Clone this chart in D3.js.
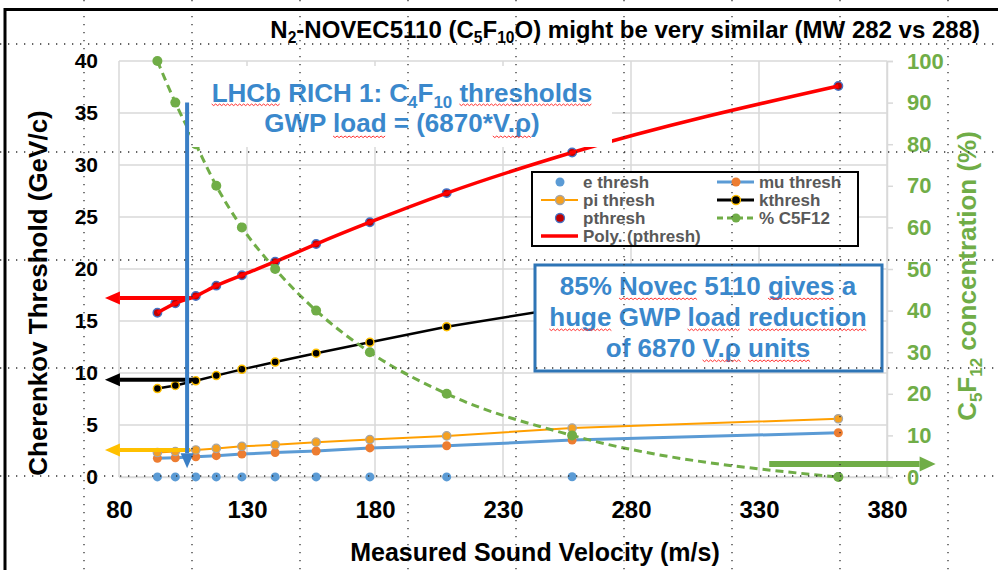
<!DOCTYPE html>
<html>
<head>
<meta charset="utf-8">
<script src="https://cdn.jsdelivr.net/npm/d3@7"></script>
<style>
  body { margin: 0; background: #fff; }
  svg { display: block; font-family: "Liberation Sans", Arial, sans-serif; font-weight: bold; }
</style>
</head>
<body>
<svg id="chart" width="998" height="570"></svg>
<script>
// values
const velocity  = [95, 102, 110, 118, 128, 141, 157, 178, 208, 257, 361];
const eThresh   = [0.01, 0.01, 0.01, 0.01, 0.01, 0.01, 0.01, 0.01, 0.01, 0.02, 0.02];
const muThresh  = [1.8, 1.85, 1.95, 2.05, 2.2, 2.35, 2.5, 2.8, 3.0, 3.55, 4.25];
const piThresh  = [2.35, 2.45, 2.6, 2.75, 2.95, 3.1, 3.35, 3.6, 3.95, 4.7, 5.6];
const kThresh   = [8.5, 8.8, 9.25, 9.75, 10.35, 11.05, 11.9, 12.95, 14.45, 16.4, 19.9];
const pThresh   = [15.8, 16.7, 17.4, 18.4, 19.4, 20.7, 22.4, 24.5, 27.3, 31.2, 37.6];
const c5f12     = [100, 90, 80, 70, 60, 50, 40, 30, 20, 10, 0];

const xTicks = [80, 130, 180, 230, 280, 330, 380];
const yTicks = [0, 5, 10, 15, 20, 25, 30, 35, 40];
const y2Ticks = [0, 10, 20, 30, 40, 50, 60, 70, 80, 90, 100];

// annotation arrows, in data units (left axis)
const arrows = [
  {x1: 108, y1: 17.2, x2: 74.5, y2: 17.2, color: '#ff0000'},
  {x1: 110, y1: 9.35, x2: 74.5, y2: 9.35, color: '#000000'},
  {x1: 107.8, y1: 2.6, x2: 74.5, y2: 2.6, color: '#ffc000'},
  {x1: 106.6, y1: 36.0, x2: 106.6, y2: 0.85, color: '#3a7fc6'},
  {x1: 334, y1: 1.25, x2: 399, y2: 1.25, color: '#70ad47', w: 6}
];

const svg = d3.select('#chart');
const x = d3.scaleLinear().domain([80, 380]).range([119, 887]);
const y = d3.scaleLinear().domain([0, 40]).range([477, 61]);
const y2 = d3.scaleLinear().domain([0, 100]).range([477, 61]);

const grey = '#d9d9d9';
const green = '#70ad47';
const blueText = '#3a88cc';

//gridlines
svg.append('g').selectAll('line').data(yTicks).join('line')
  .attr('x1', x(80)).attr('x2', x(380))
  .attr('y1', d => y(d)).attr('y2', d => y(d))
  .attr('stroke', grey).attr('stroke-width', 1.5);
svg.append('g').selectAll('line').data(xTicks).join('line')
  .attr('x1', d => x(d)).attr('x2', d => x(d))
  .attr('y1', y(0)).attr('y2', y(40))
  .attr('stroke', grey).attr('stroke-width', 1.5);

//axes
const xAxis = svg.append('g')
  .attr('transform', `translate(0, ${y(0)})`)
  .call(d3.axisBottom(x).tickValues(xTicks).tickSize(0).tickPadding(24));
xAxis.select('.domain').attr('stroke', grey).attr('stroke-width', 1.5);
xAxis.selectAll('text').attr('font-size', 24).attr('font-family', null).attr('fill', '#000');

const yAxis = svg.append('g')
  .attr('transform', `translate(${x(80)}, 0)`)
  .call(d3.axisLeft(y).tickValues(yTicks).tickSize(0).tickPadding(21));
yAxis.select('.domain').remove();
yAxis.selectAll('text').attr('font-size', 21).attr('font-family', null).attr('fill', '#000');

const y2Axis = svg.append('g')
  .attr('transform', `translate(${x(380)}, 0)`)
  .call(d3.axisRight(y2).tickValues(y2Ticks).tickSize(6).tickPadding(14));
y2Axis.select('.domain').attr('stroke', grey).attr('stroke-width', 1.5);
y2Axis.selectAll('line').attr('stroke', grey).attr('stroke-width', 1.5);
y2Axis.selectAll('text').attr('font-size', 22).attr('font-family', null).attr('fill', green);

//series helpers
function pts(vals) { return velocity.map((v, i) => [v, vals[i]]); }

function drawLine(vals, scale, color, width, dash, curve) {
  const line = d3.line()
    .x(d => x(d[0]))
    .y(d => scale(d[1]))
    .curve(curve || d3.curveLinear);
  svg.append('path')
    .datum(pts(vals))
    .attr('fill', 'none')
    .attr('stroke', color)
    .attr('stroke-width', width)
    .attr('stroke-dasharray', dash)
    .attr('stroke-linejoin', 'round')
    .attr('d', line);
}

function drawDots(vals, scale, r, fill, stroke, sw) {
  svg.append('g').selectAll('circle').data(pts(vals)).join('circle')
    .attr('cx', d => x(d[0]))
    .attr('cy', d => scale(d[1]))
    .attr('r', r)
    .attr('fill', fill)
    .attr('stroke', stroke || 'none')
    .attr('stroke-width', sw || 0);
}

drawDots(eThresh, y, 4.5, '#5b9bd5');
drawLine(muThresh, y, '#5b9bd5', 3);
drawDots(muThresh, y, 4.5, '#ed7d31');
drawLine(piThresh, y, '#ff9f00', 2);
drawDots(piThresh, y, 4.2, '#f5a020', '#a5a5a5', 1.2);
drawLine(kThresh, y, '#000000', 2.5);
drawDots(kThresh, y, 4, '#000000', '#ffc000', 1.5);
drawDots(pThresh, y, 4.2, '#c00000', '#4472c4', 1.5);
drawLine(pThresh, y, '#ff0000', 3.5, null, d3.curveMonotoneX);
drawLine(c5f12, y2, green, 3, '8,5', d3.curveMonotoneX);
drawDots(c5f12, y2, 5, green);

//text helper for subscripts
function richText(t, parts, size) {
  let shifted = false;
  parts.forEach(p => {
    const sub = typeof p !== 'string';
    const ts = t.append('tspan').text(sub ? p.sub : p);
    if (sub) {
      ts.attr('font-size', size * 0.65);
      if (!shifted) ts.attr('dy', size * 0.22);
      shifted = true;
    } else if (shifted) {
      ts.attr('dy', -size * 0.22);
      shifted = false;
    }
  });
  return t;
}

//red spell check squiggle under some words
function squiggle(textSel, words, dyLine) {
  const node = textSel.node();
  const str = node.textContent;
  const by = +textSel.attr('y') + dyLine;
  words.forEach(w => {
    const i = str.indexOf(w);
    if (i < 0) return;
    const x1 = node.getStartPositionOfChar(i).x;
    const x2 = node.getEndPositionOfChar(i + w.length - 1).x;
    let d = `M${x1},${by}`;
    let k = 0;
    for (let xx = x1 + 2; xx <= x2; xx += 2) {
      d += `L${xx},${by + (k % 2 ? 0 : 1.6)}`;
      k++;
    }
    svg.append('path').attr('d', d).attr('fill', 'none')
      .attr('stroke', '#ff3030').attr('stroke-width', 1);
  });
}

//LHCb box (white, covers part of the lines)
svg.append('rect').attr('x', 190).attr('y', 66).attr('width', 422).attr('height', 81).attr('fill', '#fff');
const l1 = svg.append('text').attr('x', 402).attr('y', 102).attr('text-anchor', 'middle')
  .attr('font-size', 26).attr('fill', blueText);
richText(l1, ['LHCb RICH 1: C', {sub: '4'}, 'F', {sub: '10'}, ' thresholds'], 26);
const l2 = svg.append('text').attr('x', 402).attr('y', 132).attr('text-anchor', 'middle')
  .attr('font-size', 26).attr('fill', blueText).text('GWP load = (6870*V.ρ)');
squiggle(l1, ['LHCb', 'thresholds'], 2);
squiggle(l2, ['load', 'V.ρ'], 4);

//legend
const lg = svg.append('g').attr('transform', 'translate(532, 172)');
lg.append('rect').attr('width', 326).attr('height', 74).attr('fill', '#fff')
  .attr('stroke', '#000').attr('stroke-width', 2);
const legendItems = [
  {label: 'e thresh', col: 0, row: 0, dot: '#5b9bd5'},
  {label: 'mu thresh', col: 1, row: 0, line: '#5b9bd5', lw: 3, dot: '#ed7d31'},
  {label: 'pi thresh', col: 0, row: 1, line: '#ff9f00', lw: 2, dot: '#f5a020', ds: '#a5a5a5'},
  {label: 'kthresh', col: 1, row: 1, line: '#000', lw: 3, dot: '#000', ds: '#ffc000'},
  {label: 'pthresh', col: 0, row: 2, dot: '#c00000', ds: '#4472c4'},
  {label: '% C5F12', col: 1, row: 2, line: green, lw: 3, dash: '6,4', dot: green},
  {label: 'Poly. (pthresh)', col: 0, row: 3, line: '#ff0000', lw: 3.5}
];
legendItems.forEach(it => {
  const gx = it.col ? 185 : 9;
  const gy = 10 + it.row * 18;
  const g = lg.append('g').attr('transform', `translate(${gx}, ${gy})`);
  if (it.line) g.append('line').attr('x1', 0).attr('x2', 37).attr('stroke', it.line)
    .attr('stroke-width', it.lw).attr('stroke-dasharray', it.dash);
  if (it.dot) g.append('circle').attr('cx', 19).attr('r', 4.5).attr('fill', it.dot)
    .attr('stroke', it.ds || 'none').attr('stroke-width', it.ds ? 1.3 : 0);
  g.append('text').attr('x', 42).attr('dy', '0.36em').attr('font-size', 17)
    .attr('fill', '#595959').text(it.label);
});

//Novec box
svg.append('rect').attr('x', 535).attr('y', 265).attr('width', 347).attr('height', 106)
  .attr('fill', '#fff').attr('stroke', '#2e75b6').attr('stroke-width', 3);
const boxLines = [
  {t: '85% Novec 5110 gives a', y: 295, w: ['Novec', 'gives']},
  {t: 'huge GWP load reduction', y: 326, w: ['huge', 'load', 'reduction']},
  {t: 'of 6870 V.ρ units', y: 357, w: ['V.ρ', 'units']}
];
boxLines.forEach(b => {
  const t = svg.append('text').attr('x', 708).attr('y', b.y).attr('text-anchor', 'middle')
    .attr('font-size', 26).attr('fill', blueText).text(b.t);
  squiggle(t, b.w, 3);
});

//arrows
arrows.forEach(a => {
  const px1 = x(a.x1), py1 = y(a.y1), px2 = x(a.x2), py2 = y(a.y2);
  const ang = Math.atan2(py2 - py1, px2 - px1);
  const len = a.w ? 16 : 15, hw = a.w ? 7.5 : 6.5;
  const bx = px2 - len * Math.cos(ang), by = py2 - len * Math.sin(ang);
  svg.append('line').attr('x1', px1).attr('y1', py1).attr('x2', bx).attr('y2', by)
    .attr('stroke', a.color).attr('stroke-width', a.w || 4);
  const nx = -Math.sin(ang) * hw, ny = Math.cos(ang) * hw;
  svg.append('path')
    .attr('d', `M${px2},${py2}L${bx + nx},${by + ny}L${bx - nx},${by - ny}Z`)
    .attr('fill', a.color);
});

//titles
const title = svg.append('text').attr('x', 980).attr('y', 38).attr('text-anchor', 'end')
  .attr('font-size', 24).attr('fill', '#000');
richText(title, ['N', {sub: '2'}, '-NOVEC5110 (C', {sub: '5'}, 'F', {sub: '10'}, 'O) might be very similar (MW 282 vs 288)'], 24);

svg.append('text').attr('x', 535).attr('y', 561).attr('text-anchor', 'middle')
  .attr('font-size', 25).attr('fill', '#000').text('Measured Sound Velocity (m/s)');

svg.append('text').attr('transform', 'translate(47, 293) rotate(-90)').attr('text-anchor', 'middle')
  .attr('font-size', 26).attr('fill', '#000').text('Cherenkov Threshold (GeV/c)');

const rt = svg.append('text').attr('transform', 'translate(976, 276) rotate(-90)').attr('text-anchor', 'middle')
  .attr('font-size', 26).attr('fill', green);
richText(rt, ['C', {sub: '5'}, 'F', {sub: '12'}, ' concentration (%)'], 26);

//slide guides (dotted) and frame
const guideX = d3.range(84, 998, 108);
const guideY = d3.range(44, 570, 108);
svg.append('g').selectAll('line').data(guideX).join('line')
  .attr('x1', d => d).attr('x2', d => d).attr('y1', 0).attr('y2', 570)
  .attr('stroke', '#333').attr('stroke-width', 1.3).attr('stroke-dasharray', '1.3,6.7');
svg.append('g').selectAll('line').data(guideY).join('line')
  .attr('y1', d => d).attr('y2', d => d).attr('x1', 0).attr('x2', 998)
  .attr('stroke', '#333').attr('stroke-width', 1.3).attr('stroke-dasharray', '1.3,6.7');

svg.append('path').attr('d', 'M5,570V9.5H998').attr('fill', 'none')
  .attr('stroke', '#000').attr('stroke-width', 3);
</script>
</body>
</html>
